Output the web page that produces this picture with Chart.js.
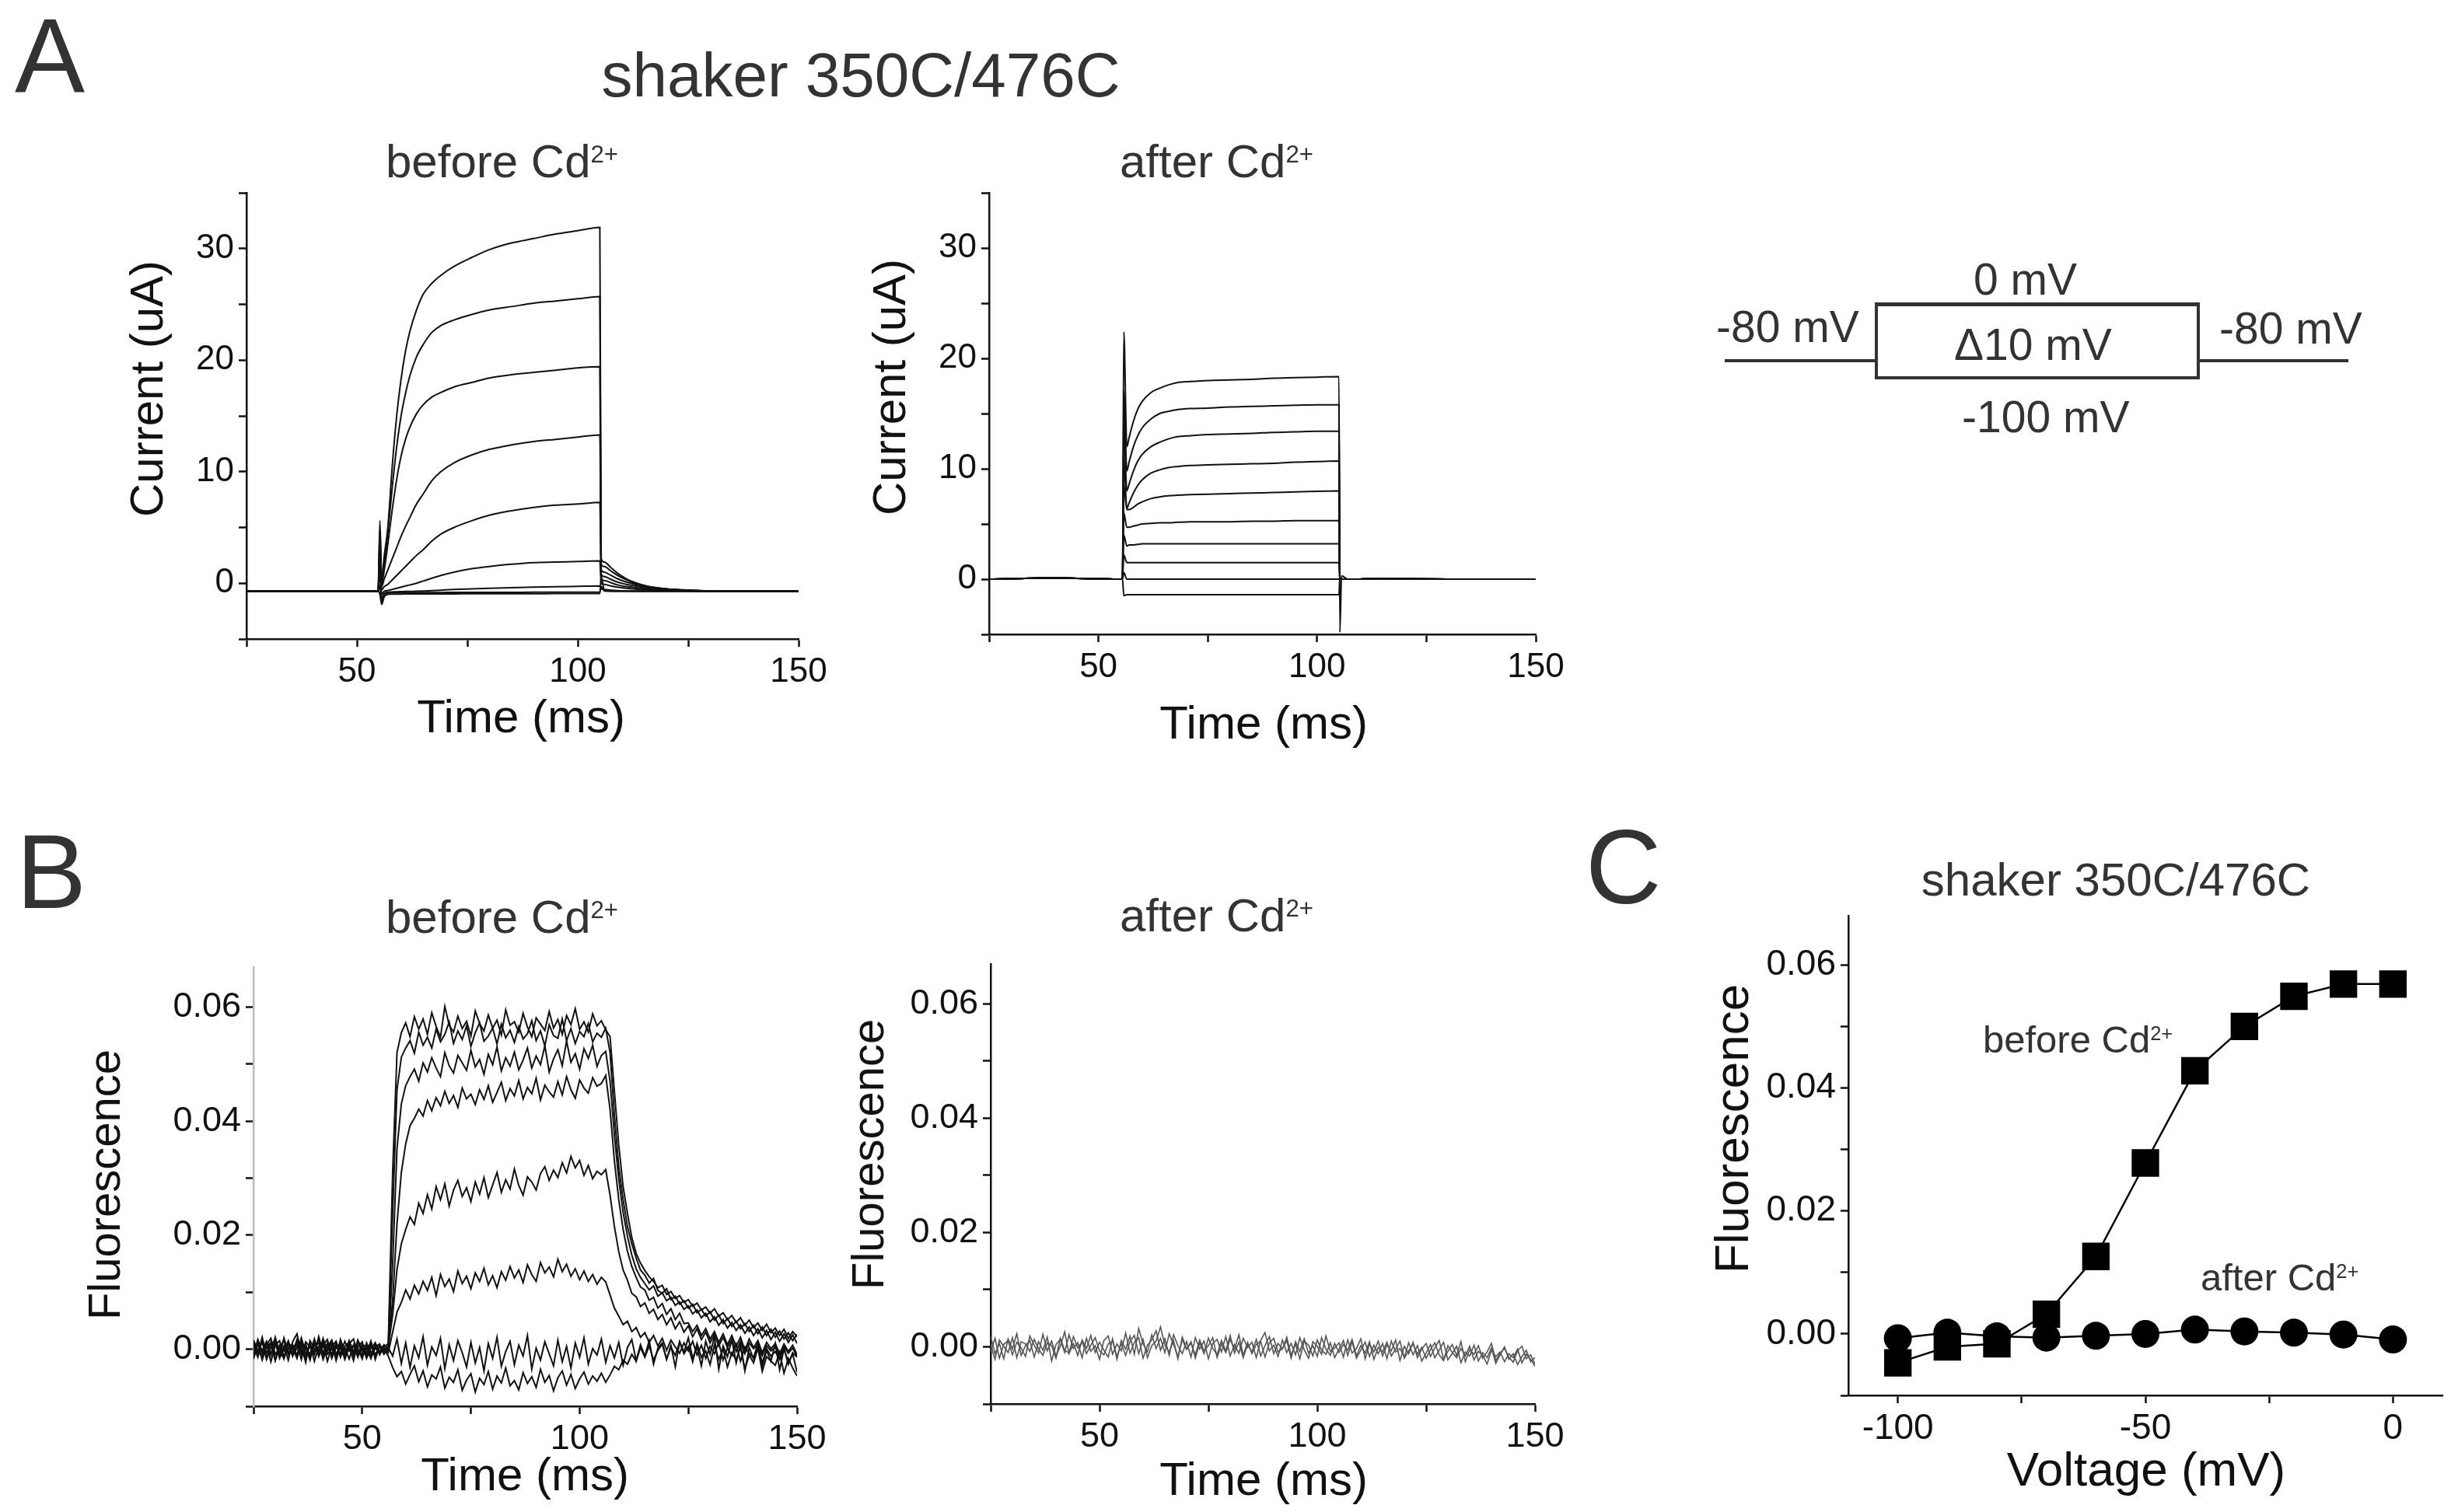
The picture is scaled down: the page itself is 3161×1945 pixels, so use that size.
<!DOCTYPE html>
<html>
<head>
<meta charset="utf-8">
<title>shaker 350C/476C</title>
<script src="https://cdn.jsdelivr.net/npm/chart.js@4.4.1/dist/chart.umd.min.js"></script>
<style>
  html, body { margin: 0; padding: 0; background: #fff; }
  #page { position: relative; width: 3161px; height: 1945px; overflow: hidden;
          font-family: "Liberation Sans", Arial, sans-serif; color: #333; }
  .panel { position: absolute; }
  .t { position: absolute; white-space: nowrap; line-height: 1; }
  .c { transform: translateX(-50%); }
  .r { transform: translate(-50%, -50%) rotate(-90deg); }
  sup { font-size: .52em; vertical-align: .62em; line-height: 0; }
  .ln { position: absolute; background: #333; }
  #stepBox { position: absolute; box-sizing: border-box; border: 4px solid #333; border-top-width: 5px; }
</style>
</head>
<body>
<div id="page">
  <div class="panel" id="pA1"><canvas id="cA1"></canvas></div>
  <div class="panel" id="pA2"><canvas id="cA2"></canvas></div>
  <div class="panel" id="pB1"><canvas id="cB1"></canvas></div>
  <div class="panel" id="pB2"><canvas id="cB2"></canvas></div>
  <div class="panel" id="pC"><canvas id="cC"></canvas></div>

  <!-- panel letters and titles -->
  <div class="t" style="left:19px;top:4px;font-size:135px;">A</div>
  <div class="t c" style="left:1107px;top:57px;font-size:80px;">shaker 350C/476C</div>
  <div class="t" style="left:496px;top:178px;font-size:60px;">before Cd<sup>2+</sup></div>
  <div class="t" style="left:1440px;top:178px;font-size:60px;">after Cd<sup>2+</sup></div>
  <div class="t r" style="left:189px;top:500px;font-size:60px;color:#111;">Current (uA)</div>
  <div class="t r" style="left:1144px;top:498px;font-size:60px;color:#111;">Current (uA)</div>
  <div class="t c" style="left:670px;top:892px;font-size:60px;color:#111;">Time (ms)</div>
  <div class="t c" style="left:1625px;top:900px;font-size:60px;color:#111;">Time (ms)</div>

  <div class="t" style="left:21px;top:1054px;font-size:135px;">B</div>
  <div class="t" style="left:496px;top:1150px;font-size:60px;">before Cd<sup>2+</sup></div>
  <div class="t" style="left:1440px;top:1148px;font-size:60px;">after Cd<sup>2+</sup></div>
  <div class="t r" style="left:134px;top:1524px;font-size:58px;color:#111;">Fluorescence</div>
  <div class="t r" style="left:1116px;top:1485px;font-size:58px;color:#111;">Fluorescence</div>
  <div class="t c" style="left:675px;top:1867px;font-size:60px;color:#111;">Time (ms)</div>
  <div class="t c" style="left:1625px;top:1873px;font-size:60px;color:#111;">Time (ms)</div>

  <div class="t" style="left:2039px;top:1048px;font-size:135px;">C</div>
  <div class="t c" style="left:2721px;top:1102px;font-size:60px;">shaker 350C/476C</div>
  <div class="t r" style="left:2227px;top:1452px;font-size:62px;color:#111;">Fluorescence</div>
  <div class="t c" style="left:2760px;top:1859px;font-size:62px;color:#111;">Voltage (mV)</div>
  <div class="t" style="left:2550px;top:1313px;font-size:49px;">before Cd<sup>2+</sup></div>
  <div class="t" style="left:2830px;top:1619px;font-size:49px;">after Cd<sup>2+</sup></div>

  <!-- pulse protocol -->
  <div class="ln" style="left:2218px;top:462px;width:193px;height:4px;"></div>
  <div id="stepBox" style="left:2411px;top:389px;width:418px;height:99px;"></div>
  <div class="ln" style="left:2829px;top:462px;width:191px;height:4px;"></div>
  <div class="t" style="left:2538px;top:331px;font-size:57px;">0 mV</div>
  <div class="t" style="left:2207px;top:392px;font-size:57px;">-80 mV</div>
  <div class="t" style="left:2513px;top:415px;font-size:57px;">Δ10 mV</div>
  <div class="t" style="left:2854px;top:394px;font-size:57px;">-80 mV</div>
  <div class="t" style="left:2523px;top:508px;font-size:57px;">-100 mV</div>
</div>

<script>
// ---- A: currents (uA) ----
var tCurBefore = [25, 54.8, 55.2, 55.6, 56.2, 57, 58, 59, 60, 61, 62, 63.5, 65, 67, 69, 72, 76, 80, 85, 90, 95, 100, 105, 105.3, 106, 107.5, 109, 111, 113, 116, 120, 125, 130, 140, 150];
var iBefore0    = [-0.72, -0.72, 5.6, 0.5, 2.5, 5.0, 10.5, 15.0, 18.3, 20.8, 22.6, 24.5, 25.9, 26.9, 27.6, 28.4, 29.2, 29.9, 30.5, 30.9, 31.3, 31.6, 31.9, 2.2, 1.9, 1.4, 0.9, 0.4, 0.05, -0.3, -0.5, -0.62, -0.68, -0.72, -0.72];
var iBeforeM10  = [-0.72, -0.72, 4.8, 0.2, 1.8, 4.5, 8.6, 12.2, 15.0, 17.0, 18.6, 20.3, 21.4, 22.5, 23.1, 23.6, 24.1, 24.5, 24.8, 25.1, 25.3, 25.5, 25.7, 1.7, 1.5, 1.1, 0.7, 0.3, 0.0, -0.3, -0.5, -0.62, -0.68, -0.72, -0.72];
var iBeforeM20  = [-0.72, -0.72, 4.0, 0.0, 1.2, 3.5, 6.6, 9.3, 11.4, 12.9, 14.0, 15.2, 16.0, 16.7, 17.1, 17.6, 18.0, 18.4, 18.7, 18.9, 19.1, 19.3, 19.4, 1.2, 1.0, 0.7, 0.4, 0.1, -0.1, -0.35, -0.52, -0.63, -0.69, -0.72, -0.72];
var iBeforeM30  = [-0.72, -0.72, 3.2, -0.3, 0.4, 1.2, 2.2, 3.2, 4.2, 5.1, 5.9, 7.1, 8.0, 9.2, 10.0, 10.8, 11.5, 12.0, 12.4, 12.7, 12.9, 13.1, 13.3, 0.8, 0.6, 0.35, 0.1, -0.1, -0.25, -0.42, -0.56, -0.65, -0.7, -0.72, -0.72];
var iBeforeM40  = [-0.72, -0.72, 2.5, -0.6, -0.3, -0.1, 0.3, 0.7, 1.1, 1.5, 1.9, 2.5, 3.0, 3.8, 4.4, 5.0, 5.6, 6.1, 6.5, 6.8, 7.0, 7.1, 7.25, 0.4, 0.25, 0.05, -0.15, -0.3, -0.4, -0.52, -0.62, -0.68, -0.71, -0.72, -0.72];
var iBeforeM50  = [-0.72, -0.72, 1.8, -1.0, -0.7, -0.65, -0.55, -0.45, -0.35, -0.25, -0.15, 0.0, 0.2, 0.45, 0.7, 1.0, 1.3, 1.5, 1.7, 1.85, 1.9, 1.95, 2.0, 0.0, -0.1, -0.25, -0.35, -0.45, -0.52, -0.6, -0.66, -0.7, -0.72, -0.72, -0.72];
var iBeforeM60  = [-0.72, -0.72, 1.0, -1.4, -0.9, -0.8, -0.78, -0.76, -0.75, -0.74, -0.73, -0.72, -0.7, -0.66, -0.62, -0.56, -0.5, -0.45, -0.4, -0.35, -0.31, -0.28, -0.25, -0.5, -0.55, -0.62, -0.66, -0.69, -0.71, -0.72, -0.72, -0.72, -0.72, -0.72, -0.72];
var iBeforeM80  = [-0.72, -0.72, -0.2, -1.7, -1.0, -0.88, -0.86, -0.85, -0.85, -0.84, -0.84, -0.84, -0.83, -0.83, -0.83, -0.82, -0.82, -0.82, -0.82, -0.81, -0.81, -0.81, -0.8, -0.3, -0.7, -0.72, -0.72, -0.72, -0.72, -0.72, -0.72, -0.72, -0.72, -0.72, -0.72];
var iBeforeM100 = [-0.72, -0.72, -1.0, -1.9, -1.2, -1.0, -0.98, -0.97, -0.97, -0.96, -0.96, -0.96, -0.95, -0.95, -0.95, -0.95, -0.94, -0.94, -0.94, -0.94, -0.93, -0.93, -0.93, 0.6, -0.6, -0.7, -0.72, -0.72, -0.72, -0.72, -0.72, -0.72, -0.72, -0.72, -0.72];

var tCurAfter = [25, 40, 54.8, 55.5, 55.8, 56.5, 57, 58, 59, 60, 62, 64, 66, 68, 71, 75, 80, 85, 90, 95, 100, 105, 105.2, 105.6, 107, 115, 130, 150];
var iAfter0   = [0, 0.1, 0, 0, 22.4, 12.0, 12.8, 14.3, 15.4, 16.1, 16.9, 17.3, 17.6, 17.8, 17.9, 18.0, 18.05, 18.1, 18.2, 18.25, 18.3, 18.35, -4.8, 0.3, 0, 0.05, 0, 0];
var iAfterM10 = [0, 0.1, 0, 0, 17.0, 9.8, 10.6, 12.0, 13.0, 13.7, 14.5, 15.0, 15.2, 15.35, 15.45, 15.5, 15.6, 15.65, 15.7, 15.75, 15.8, 15.8, 0.2, 0, 0, 0.05, 0, 0];
var iAfterM20 = [0, 0.1, 0, 0, 14.0, 8.0, 8.6, 9.8, 10.7, 11.3, 12.0, 12.4, 12.7, 12.9, 13.0, 13.1, 13.15, 13.2, 13.3, 13.35, 13.4, 13.4, 0.1, 0, 0, 0.05, 0, 0];
var iAfterM30 = [0, 0.1, 0, 0, 11.0, 6.4, 6.9, 7.8, 8.5, 9.0, 9.6, 9.9, 10.1, 10.2, 10.3, 10.35, 10.4, 10.45, 10.5, 10.6, 10.65, 10.7, 0.1, 0, 0, 0.05, 0, 0];
var iAfterM40 = [0, 0.1, 0, 0, 8.5, 6.3, 6.3, 6.5, 6.8, 7.0, 7.3, 7.45, 7.55, 7.6, 7.65, 7.7, 7.75, 7.8, 7.85, 7.9, 7.95, 8.0, 0.05, 0, 0, 0.05, 0, 0];
var iAfterM50 = [0, 0.1, 0, 0, 6.0, 4.7, 4.7, 4.8, 4.9, 5.0, 5.05, 5.1, 5.1, 5.15, 5.2, 5.2, 5.2, 5.25, 5.25, 5.3, 5.3, 5.3, 0, 0, 0, 0.05, 0, 0];
var iAfterM60 = [0, 0.1, 0, 0, 4.0, 3.0, 3.1, 3.1, 3.15, 3.2, 3.2, 3.2, 3.2, 3.2, 3.2, 3.2, 3.2, 3.2, 3.2, 3.2, 3.2, 3.2, 0, 0, 0, 0.05, 0, 0];
var iAfterM70 = [0, 0.1, 0, 0, 2.2, 1.5, 1.5, 1.5, 1.5, 1.5, 1.5, 1.5, 1.5, 1.5, 1.5, 1.5, 1.5, 1.5, 1.5, 1.5, 1.5, 1.5, 0, 0, 0, 0.05, 0, 0];
var iAfterM80 = [0, 0.1, 0, 0, 0.6, 0, 0, 0, 0, 0, 0, 0, 0, 0, 0, 0, 0, 0, 0, 0, 0, 0, 0, 0, 0, 0.05, 0, 0];
var iAfterM90 = [0, 0.1, 0, 0, -1.5, -1.4, -1.4, -1.4, -1.4, -1.4, -1.4, -1.4, -1.4, -1.4, -1.4, -1.4, -1.4, -1.4, -1.4, -1.4, -1.4, -1.4, 0, 0, 0, 0.05, 0, 0];

// ---- B: fluorescence, one sample per ms ----
var tFluor = [25,26,27,28,29,30,31,32,33,34,35,36,37,38,39,40,41,42,43,44,45,46,47,48,49,50,51,52,53,54,55,56,57,58,59,60,61,62,63,64,65,66,67,68,69,70,71,72,73,74,75,76,77,78,79,80,81,82,83,84,85,86,87,88,89,90,91,92,93,94,95,96,97,98,99,100,101,102,103,104,105,106,107,108,109,110,111,112,113,114,115,116,117,118,119,120,121,122,123,124,125,126,127,128,129,130,131,132,133,134,135,136,137,138,139,140,141,142,143,144,145,146,147,148,149,150];

var fluorBefore0 = [
  .0012,-.0008,.0021,-.0015,.0004,.0018,-.0011,.0006,-.0019,.0013,
  .0027,-.0006,.0009,-.0014,.0016,-.0003,.0011,-.0021,.0005,.0014,
  -.0009,.0003,-.0017,.0008,-.0004,-.0012,.0006,-.0015,.0002,-.0007,
  .0004,.0010,.0310,.0520,.0555,.0572,.0548,.0583,.0561,.0579,
  .0552,.0590,.0566,.0547,.0601,.0568,.0556,.0584,.0562,.0575,
  .0549,.0593,.0571,.0558,.0586,.0563,.0577,.0551,.0595,.0568,
  .0574,.0556,.0589,.0565,.0548,.0581,.0570,.0559,.0592,.0563,
  .0578,.0552,.0585,.0569,.0597,.0561,.0574,.0556,.0588,.0567,
  .0576,.0560,.0548,.0452,.0358,.0285,.0238,.0196,.0168,.0151,
  .0138,.0127,.0119,.0108,.0112,.0096,.0101,.0089,.0094,.0082,
  .0087,.0075,.0081,.0069,.0074,.0063,.0071,.0058,.0064,.0052,
  .0059,.0047,.0055,.0042,.0051,.0038,.0046,.0033,.0044,.0029,
  .0037,.0024,.0035,.0019,.0031,.0022];
var fluorBeforeM20 = [
  -.0011,.0016,-.0004,.0009,-.0022,.0007,.0015,-.0013,.0002,-.0006,
  .0008,-.0018,.0013,.0004,-.0010,.0022,-.0007,.0011,-.0016,.0003,
  .0010,-.0013,.0005,-.0020,.0012,.0001,-.0009,.0014,-.0018,.0006,
  -.0003,.0006,.0240,.0455,.0512,.0528,.0541,.0519,.0556,.0533,
  .0547,.0528,.0561,.0539,.0552,.0574,.0536,.0558,.0543,.0567,
  .0531,.0555,.0572,.0540,.0549,.0563,.0535,.0570,.0546,.0559,
  .0538,.0566,.0544,.0553,.0576,.0541,.0558,.0532,.0569,.0550,
  .0545,.0579,.0541,.0562,.0536,.0557,.0548,.0571,.0539,.0554,
  .0547,.0563,.0520,.0410,.0320,.0262,.0215,.0185,.0160,.0139,
  .0130,.0116,.0124,.0103,.0098,.0106,.0087,.0093,.0079,.0085,
  .0072,.0079,.0064,.0070,.0058,.0066,.0051,.0060,.0045,.0054,
  .0040,.0049,.0036,.0045,.0031,.0042,.0027,.0039,.0024,.0035,
  .0021,.0032,.0018,.0029,.0015,.0026];
var fluorBeforeM30 = [
  .0005,-.0014,.0019,-.0007,.0011,-.0020,.0003,.0016,-.0009,.0008,
  -.0012,.0006,-.0023,.0015,.0001,-.0008,.0019,-.0004,.0010,-.0015,
  .0017,-.0005,.0009,-.0011,.0004,.0013,-.0016,.0002,.0011,-.0010,
  .0003,-.0002,.0150,.0352,.0430,.0462,.0478,.0491,.0470,.0502,
  .0486,.0511,.0493,.0478,.0520,.0497,.0484,.0515,.0502,.0489,
  .0524,.0495,.0508,.0482,.0517,.0499,.0530,.0488,.0511,.0496,
  .0521,.0490,.0507,.0528,.0493,.0514,.0499,.0532,.0486,.0509,
  .0525,.0497,.0540,.0503,.0518,.0491,.0527,.0510,.0533,.0496,
  .0515,.0522,.0470,.0375,.0298,.0240,.0198,.0165,.0141,.0126,
  .0115,.0104,.0111,.0093,.0099,.0085,.0091,.0077,.0083,.0070,
  .0076,.0062,.0069,.0055,.0063,.0048,.0057,.0042,.0052,.0037,
  .0047,.0033,.0043,.0028,.0039,.0024,.0036,.0020,.0033,.0017,
  .0030,.0014,.0027,.0012,.0025,.0010];
var fluorBeforeM40 = [
  -.0017,.0009,-.0002,.0014,-.0010,.0021,-.0006,-.0015,.0012,-.0001,
  .0015,-.0009,.0004,-.0019,.0012,-.0006,.0008,.0017,-.0013,.0005,
  -.0008,.0014,-.0003,.0006,-.0014,.0009,.0003,-.0011,.0007,-.0004,
  .0008,.0001,.0085,.0220,.0310,.0360,.0392,.0405,.0421,.0409,
  .0436,.0418,.0441,.0427,.0452,.0431,.0445,.0424,.0458,.0439,
  .0447,.0429,.0455,.0438,.0462,.0433,.0450,.0468,.0436,.0457,
  .0444,.0471,.0439,.0459,.0448,.0475,.0437,.0463,.0451,.0442,
  .0469,.0446,.0478,.0455,.0440,.0472,.0458,.0449,.0476,.0461,
  .0466,.0480,.0420,.0330,.0262,.0210,.0172,.0145,.0126,.0109,
  .0104,.0086,.0091,.0072,.0080,.0061,.0071,.0052,.0063,.0045,
  .0046,.0031,.0042,.0024,.0036,.0018,.0031,.0012,.0027,.0008,
  .0024,.0005,.0021,-.0002,.0018,.0003,.0015,-.0006,.0012,.0001,
  .0010,-.0008,.0009,-.0004,.0007,-.0009];
var fluorBeforeM50 = [
  .0009,-.0006,.0013,-.0018,.0004,.0010,-.0012,.0020,-.0005,.0002,
  -.0016,.0011,.0003,-.0009,.0018,-.0013,.0005,-.0002,.0014,-.0020,
  .0006,-.0010,.0015,-.0004,.0002,-.0017,.0011,-.0006,.0004,.0009,
  -.0005,.0004,.0060,.0140,.0185,.0210,.0232,.0219,.0256,.0238,
  .0271,.0246,.0285,.0262,.0290,.0251,.0279,.0296,.0268,.0283,
  .0259,.0293,.0272,.0301,.0266,.0288,.0310,.0275,.0297,.0281,
  .0316,.0287,.0270,.0302,.0293,.0279,.0308,.0320,.0296,.0314,
  .0301,.0327,.0309,.0338,.0318,.0331,.0305,.0322,.0299,.0312,
  .0306,.0315,.0270,.0215,.0171,.0139,.0121,.0098,.0092,.0075,
  .0081,.0063,.0070,.0052,.0061,.0043,.0055,.0036,.0048,.0030,
  .0041,.0022,.0036,.0017,.0030,.0011,.0026,.0006,.0021,.0003,
  .0017,-.0004,.0014,-.0008,.0011,.0001,.0008,-.0011,.0006,-.0003,
  .0004,-.0014,.0006,-.0007,.0002,-.0012];
var fluorBeforeM60 = [
  -.0013,.0017,-.0008,.0004,.0012,-.0019,.0007,-.0003,.0015,-.0011,
  .0002,.0013,-.0015,.0008,-.0005,.0019,-.0012,.0006,-.0008,.0011,
  -.0014,.0005,.0012,-.0007,.0016,-.0002,-.0013,.0008,-.0009,.0003,
  .0001,-.0006,.0030,.0065,.0082,.0104,.0088,.0112,.0097,.0119,
  .0103,.0126,.0094,.0131,.0110,.0123,.0101,.0137,.0115,.0128,
  .0106,.0134,.0119,.0142,.0113,.0129,.0108,.0136,.0121,.0145,
  .0125,.0139,.0117,.0148,.0131,.0119,.0152,.0134,.0144,.0127,
  .0158,.0136,.0149,.0128,.0141,.0122,.0137,.0119,.0131,.0114,
  .0126,.0118,.0095,.0072,.0058,.0043,.0049,.0031,.0038,.0021,
  .0029,.0012,.0024,.0006,.0019,-.0002,.0016,.0004,-.0007,.0011,
  -.0003,.0014,-.0010,.0007,-.0016,.0005,-.0008,.0012,-.0019,.0002,
  -.0011,.0009,-.0021,.0004,-.0007,-.0015,.0006,-.0024,.0001,-.0012,
  -.0004,-.0018,.0003,-.0026,-.0006,-.0014];
var fluorBeforeM80 = [
  .0016,-.0002,-.0014,.0008,.0019,-.0009,.0003,-.0017,.0010,.0005,
  -.0010,.0020,-.0006,-.0013,.0007,.0011,-.0018,.0004,.0016,-.0008,
  .0002,-.0015,.0010,.0018,-.0011,.0004,-.0006,.0013,-.0014,.0008,
  -.0009,.0003,-.0012,.0018,-.0025,.0011,-.0032,.0006,-.0015,.0022,
  -.0028,.0004,-.0011,.0019,-.0034,.0008,-.0020,.0015,-.0006,-.0031,
  .0012,-.0024,.0003,-.0038,.0010,-.0016,.0021,-.0030,-.0004,.0014,
  -.0027,.0007,-.0012,.0024,-.0035,.0002,-.0019,.0013,-.0008,-.0029,
  .0016,-.0022,.0005,-.0033,.0011,-.0014,.0020,-.0026,.0001,-.0010,
  .0018,-.0023,.0006,-.0015,.0012,-.0028,.0003,.0017,-.0020,.0008,
  -.0012,.0015,-.0026,.0002,.0011,-.0018,.0007,-.0031,.0013,-.0005,
  .0020,-.0016,.0004,-.0029,.0014,-.0009,.0022,-.0035,.0006,-.0013,
  .0017,-.0024,.0009,-.0038,.0003,-.0017,.0012,-.0030,-.0002,-.0021,
  .0010,-.0036,.0001,-.0025,-.0008,-.0040];
var fluorBeforeM100 = [
  -.0004,.0011,-.0019,.0006,-.0008,.0014,-.0016,.0002,.0009,-.0012,
  .0017,-.0003,-.0011,.0010,-.0021,.0005,.0013,-.0009,.0001,-.0014,
  .0008,-.0018,.0004,-.0007,.0015,-.0010,.0002,-.0016,.0011,-.0005,
  .0002,-.0012,-.0032,-.0048,-.0039,-.0061,-.0044,-.0029,-.0057,-.0038,
  -.0066,-.0045,-.0052,-.0031,-.0068,-.0049,-.0058,-.0036,-.0072,-.0054,
  -.0043,-.0075,-.0051,-.0062,-.0039,-.0070,-.0047,-.0059,-.0033,-.0064,
  -.0055,-.0071,-.0041,-.0060,-.0048,-.0067,-.0035,-.0058,-.0046,-.0073,
  -.0050,-.0038,-.0063,-.0044,-.0069,-.0052,-.0040,-.0061,-.0047,-.0056,
  -.0042,-.0058,-.0045,-.0030,-.0036,-.0019,-.0026,-.0009,-.0021,.0003,
  -.0014,.0006,-.0019,-.0002,.0009,-.0017,.0004,-.0011,.0013,-.0008,
  .0005,-.0022,.0010,-.0014,-.0003,-.0027,.0007,-.0018,.0001,-.0031,
  -.0006,-.0019,.0004,-.0035,-.0010,-.0024,.0002,-.0039,-.0013,-.0021,
  -.0028,-.0005,-.0042,-.0016,-.0033,-.0047];

var fluorAfterA = [
  .0018,-.0012,.0006,-.0021,.0014,-.0004,.0023,-.0015,.0002,.0011,
  -.0018,.0009,-.0006,.0017,-.0025,.0004,.0013,-.0010,.0021,-.0003,
  .0007,-.0019,.0015,-.0008,.0002,-.0022,.0011,.0019,-.0013,.0005,
  -.0007,.0024,-.0011,.0008,.0016,-.0020,.0003,.0012,.0028,-.0006,
  .0014,-.0015,.0021,.0002,-.0012,.0009,-.0018,.0016,-.0004,.0010,
  -.0021,.0006,.0013,-.0009,.0018,-.0016,.0004,-.0011,.0015,-.0001,
  .0008,-.0019,.0011,.0025,-.0007,.0003,-.0017,.0012,-.0010,.0006,
  -.0014,.0016,-.0005,-.0020,.0009,.0001,-.0013,.0019,-.0008,-.0002,
  .0007,-.0018,.0012,-.0011,-.0003,.0014,-.0021,.0005,-.0009,.0010,
  -.0016,.0003,-.0007,.0012,-.0024,.0001,-.0012,.0008,-.0019,-.0004,
  .0006,-.0017,-.0002,.0011,-.0022,-.0008,.0004,-.0015,.0009,-.0026,
  -.0005,-.0013,.0002,-.0020,-.0009,.0006,-.0024,-.0011,-.0003,-.0018,
  -.0027,-.0007,.0001,-.0021,-.0014,-.0030];
var fluorAfterB = [
  -.0009,.0015,-.0020,.0004,.0011,-.0014,.0008,-.0002,-.0017,.0019,
  .0003,-.0011,.0022,-.0007,.0010,-.0016,.0001,.0026,-.0012,.0006,
  -.0015,.0012,-.0003,.0020,-.0010,.0008,-.0006,-.0018,.0014,-.0022,
  .0011,-.0004,.0019,-.0013,.0032,.0005,-.0009,.0021,-.0003,.0015,
  -.0010,.0023,.0004,-.0017,.0013,-.0005,.0009,-.0020,.0007,-.0012,
  .0015,-.0003,-.0014,.0011,-.0007,.0020,-.0011,.0008,-.0019,.0004,
  -.0009,.0013,-.0016,.0002,.0018,-.0012,.0006,-.0004,.0017,-.0015,
  .0005,-.0021,.0010,.0003,-.0016,.0012,-.0006,-.0013,.0007,-.0019,
  -.0004,.0011,-.0015,.0009,-.0020,-.0006,.0008,-.0017,.0003,-.0012,
  .0006,-.0021,.0010,-.0009,-.0003,-.0018,.0007,-.0014,.0002,-.0025,
  -.0011,.0004,-.0019,-.0006,.0008,-.0023,-.0012,.0001,-.0028,-.0009,
  -.0016,.0003,-.0025,-.0010,-.0019,-.0002,-.0029,-.0014,.0000,-.0022,
  -.0012,-.0031,-.0017,-.0006,-.0026,-.0019];
var fluorAfterC = [
  .0004,-.0022,.0012,.0001,-.0010,.0016,-.0019,.0009,.0005,-.0008,
  .0013,-.0004,-.0015,.0007,.0002,-.0020,.0015,-.0006,-.0011,.0018,
  -.0002,.0009,-.0012,.0003,.0016,-.0007,-.0014,.0005,.0010,-.0017,
  .0006,-.0015,.0009,.0020,-.0012,.0013,-.0019,.0002,.0010,.0035,
  .0003,-.0009,.0011,-.0021,.0017,-.0003,.0006,-.0014,.0012,-.0007,
  .0002,.0016,-.0019,.0005,-.0010,.0013,-.0004,.0021,-.0015,.0008,
  -.0012,.0004,.0010,-.0018,.0007,.0015,-.0009,-.0003,.0011,-.0020,
  .0009,-.0008,.0014,-.0011,.0002,-.0017,.0016,-.0004,-.0015,.0006,
  -.0010,.0004,-.0006,.0013,-.0016,.0002,-.0011,.0009,-.0022,-.0001,
  -.0009,.0008,-.0016,-.0004,.0010,-.0020,-.0007,.0005,-.0013,-.0001,
  -.0020,-.0005,.0007,-.0014,-.0024,.0002,-.0010,-.0019,-.0003,-.0016,
  .0001,-.0023,-.0008,-.0015,-.0030,-.0006,-.0017,-.0009,-.0026,-.0012,
  -.0019,-.0004,-.0028,-.0013,-.0022,-.0034];

// ---- C: F-V relation ----
var cVoltage = [-100, -90, -80, -70, -60, -50, -40, -30, -20, -10, 0];
var cBefore  = [-0.0047, -0.0021, -0.0016, 0.0032, 0.0126, 0.0278, 0.0428, 0.0500, 0.0549, 0.0569, 0.0569];
var cAfter   = [-0.0007, 0.0002, -0.0004, -0.0006, -0.0003, 0.0000, 0.0007, 0.0004, 0.0002, -0.0001, -0.0009];

Chart.defaults.font.family = '"Liberation Sans", Arial, sans-serif';
Chart.defaults.color = '#111';

// layout of each plot box inside its canvas
var PAD_T = 40, PAD_R = 60, Y_W = 150, X_H = 110;

function pts(times, values) {
  return values.map(function (y, i) { return { x: times[i], y: y }; });
}

function trace(times, values, color, width, smooth) {
  return {
    data: pts(times, values),
    borderColor: color,
    borderWidth: width,
    pointRadius: 0,
    fill: false,
    cubicInterpolationMode: smooth ? 'monotone' : 'default',
    tension: 0
  };
}

function axis(min, max, step, labelFn, fontSize, fit, lineColor) {
  return {
    type: 'linear', min: min, max: max,
    ticks: { stepSize: step, includeBounds: false, autoSkip: false, maxRotation: 0,
             font: { size: fontSize }, color: '#111', padding: 6, callback: labelFn },
    grid: { drawOnChartArea: false, drawTicks: true, tickLength: 10, tickWidth: 2.5, tickColor: '#111' },
    border: { display: true, color: lineColor || '#111', width: 2.5 },
    afterFit: fit
  };
}

function fitY(s) { s.width = Y_W; }
function fitX(s) { s.height = X_H; }

var timeLabel = function (v) { return v % 50 === 0 ? String(v) : ''; };
var currentLabel = function (v) { return (v >= 0 && v % 10 === 0) ? String(v) : ''; };
var fluorLabel = function (v) {
  var k = Math.round(v * 100);
  return (k >= 0 && k % 2 === 0) ? (k / 100).toFixed(2) : '';
};
var voltLabel = function (v) { return v % 50 === 0 ? String(v) : ''; };

function makePanel(id, area, xAxis, yAxis, datasets) {
  var box = document.getElementById('p' + id);
  box.style.left = (area.l - Y_W) + 'px';
  box.style.top = (area.t - PAD_T) + 'px';
  box.style.width = (area.r - area.l + Y_W + PAD_R) + 'px';
  box.style.height = (area.b - area.t + PAD_T + X_H) + 'px';
  return new Chart(document.getElementById('c' + id), {
    type: 'line',
    data: { datasets: datasets },
    options: {
      responsive: true,
      maintainAspectRatio: false,
      animation: false,
      devicePixelRatio: 1,
      layout: { padding: { top: PAD_T, right: PAD_R, left: 0, bottom: 0 } },
      plugins: { legend: { display: false }, tooltip: { enabled: false } },
      scales: { x: xAxis, y: yAxis }
    }
  });
}

// A, before Cd2+
makePanel('A1', { l: 317, t: 248, r: 1027, b: 822 },
  axis(25, 150, 25, timeLabel, 44, fitX),
  axis(-5, 35, 5, currentLabel, 44, fitY),
  [iBefore0, iBeforeM10, iBeforeM20, iBeforeM30, iBeforeM40, iBeforeM50, iBeforeM60, iBeforeM80, iBeforeM100]
    .map(function (v) { return trace(tCurBefore, v, '#111', 2, true); }));

// A, after Cd2+
makePanel('A2', { l: 1272, t: 248, r: 1975, b: 816 },
  axis(25, 150, 25, timeLabel, 44, fitX),
  axis(-5, 35, 5, currentLabel, 44, fitY),
  [iAfter0, iAfterM10, iAfterM20, iAfterM30, iAfterM40, iAfterM50, iAfterM60, iAfterM70, iAfterM80, iAfterM90]
    .map(function (v) { return trace(tCurAfter, v, '#111', 2, true); }));

// B, before Cd2+
makePanel('B1', { l: 326, t: 1244, r: 1025, b: 1809 },
  axis(25, 150, 25, timeLabel, 45, fitX),
  axis(-0.01, 0.067, 0.01, fluorLabel, 45, fitY, '#bbb'),
  [fluorBefore0, fluorBeforeM20, fluorBeforeM30, fluorBeforeM40, fluorBeforeM50, fluorBeforeM60, fluorBeforeM80, fluorBeforeM100]
    .map(function (v) { return trace(tFluor, v, '#111', 2, false); }));

// B, after Cd2+
makePanel('B2', { l: 1274, t: 1240, r: 1974, b: 1806 },
  axis(25, 150, 25, timeLabel, 45, fitX),
  axis(-0.01, 0.067, 0.01, fluorLabel, 45, fitY),
  [fluorAfterA, fluorAfterB, fluorAfterC]
    .map(function (v) { return trace(tFluor, v, '#555', 1.6, false); }));

// C, fluorescence vs voltage
makePanel('C', { l: 2377, t: 1178, r: 3141, b: 1795 },
  axis(-110, 10, 25, voltLabel, 46, fitX),
  axis(-0.01, 0.068, 0.01, fluorLabel, 46, fitY),
  [
    { data: pts(cVoltage, cAfter), borderColor: '#000', backgroundColor: '#000', borderWidth: 2.5,
      pointStyle: 'circle', pointRadius: 18, pointBorderWidth: 0, tension: 0 },
    { data: pts(cVoltage, cBefore), borderColor: '#000', backgroundColor: '#000', borderWidth: 2.5,
      pointStyle: 'rect', pointRadius: 25, pointBorderWidth: 0, tension: 0 }
  ]);
</script>
</body>
</html>
